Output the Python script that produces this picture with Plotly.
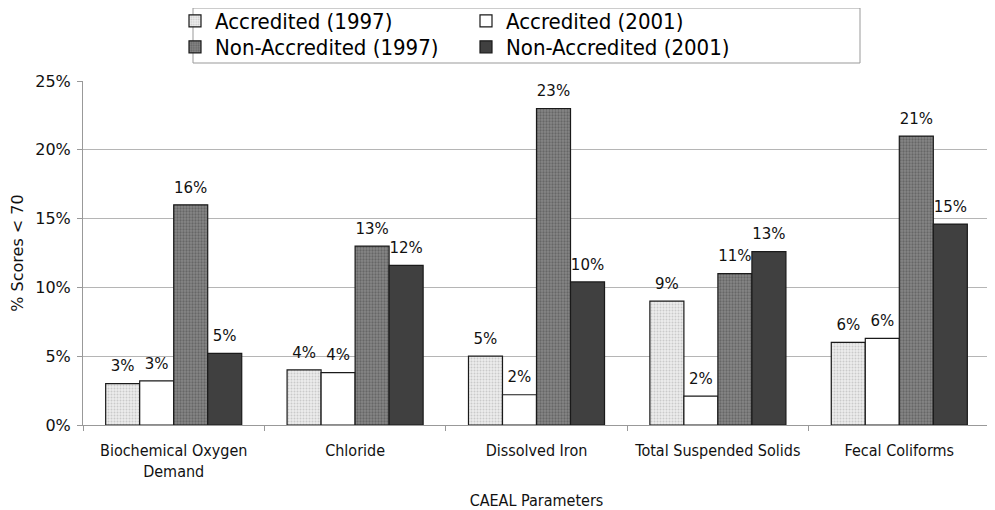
import plotly.graph_objects as go

categories = ["Biochemical Oxygen<br>Demand", "Chloride", "Dissolved Iron",
              "Total Suspended Solids", "Fecal Coliforms"]
series_names = ["Accredited (1997)", "Accredited (2001)",
                "Non-Accredited (1997)", "Non-Accredited (2001)"]
acc_1997 = [0.030, 0.040, 0.050, 0.090, 0.060]
acc_2001 = [0.032, 0.038, 0.022, 0.021, 0.063]
nonacc_1997 = [0.160, 0.130, 0.230, 0.110, 0.210]
nonacc_2001 = [0.052, 0.116, 0.104, 0.126, 0.146]
y_ticks = [0, 0.05, 0.10, 0.15, 0.20, 0.25]

values = [acc_1997, acc_2001, nonacc_1997, nonacc_2001]
styles = [
    dict(color="#dedede", pattern=dict(shape=".", fgcolor="#a8a8a8", bgcolor="#ececec", size=3, solidity=0.35)),
    dict(color="#ffffff"),
    dict(color="#747474", pattern=dict(shape=".", fgcolor="#454545", bgcolor="#878787", size=3, solidity=0.45)),
    dict(color="#404040"),
]
legend_ids = ["legend", "legend", "legend2", "legend2"]

# the page body has an 8px margin, so the figure is 8px smaller than the window
W, H = 987, 502
ML, MT, PW, PH = 75, 73, 907, 344

fig = go.Figure()
for name, vals, st, lg in zip(series_names, values, styles, legend_ids):
    marker = dict(line=dict(color="#1a1a1a", width=1.2))
    marker.update(st)
    fig.add_trace(go.Bar(
        x=categories, y=vals, name=name, marker=marker, legend=lg,
    ))
for name, vals in zip(series_names, values):
    fig.add_trace(go.Scatter(
        x=categories, y=vals, mode="markers+text", showlegend=False,
        marker=dict(size=12, opacity=0), hoverinfo="skip",
        texttemplate="%{y:.0%}", textposition="top center",
        textfont=dict(family="DejaVu Sans", size=15, color="#111"),
        cliponaxis=False,
    ))

condensed = "DejaVu Sans Condensed"
legend_common = dict(
    orientation="h", xanchor="left", yanchor="middle",
    xref="container", yref="container",
    font=dict(family=condensed, size=22, color="#000"),
    bgcolor="rgba(0,0,0,0)", borderwidth=0,
    entrywidthmode="pixels", entrywidth=246, itemwidth=30,
    traceorder="normal",
)

def sy(v):  # screen pixel row -> paper y
    return (MT + PH - (v - 8)) / PH

def sx(v):  # screen pixel column -> paper x
    return (v - 8 - ML) / PW

fig.update_layout(
    width=W, height=H,
    margin=dict(l=ML, r=W - ML - PW, t=MT, b=H - MT - PH, autoexpand=False),
    paper_bgcolor="white", plot_bgcolor="white",
    barmode="group", bargap=0.25, bargroupgap=0,
    scattermode="group", scattergap=0.25,
    showlegend=True,
    legend=dict(x=(167) / W, y=1 - 13 / H, **legend_common),
    legend2=dict(x=(167) / W, y=1 - 39 / H, **legend_common),
    shapes=[dict(type="rect", xref="paper", yref="paper",
                 x0=sx(193), x1=sx(860), y0=sy(63), y1=sy(8),
                 line=dict(color="#999", width=1), fillcolor="rgba(0,0,0,0)", layer="below")],
    xaxis=dict(
        showline=True, linecolor="#999", linewidth=1,
        ticks="outside", tickson="boundaries", ticklen=5, tickcolor="#999",
        tickangle=0,
        tickfont=dict(family=condensed, size=16, color="#111"),
        ticklabelstandoff=11,
        title=dict(text="CAEAL Parameters", standoff=15,
                   font=dict(family=condensed, size=16, color="#111")),
    ),
    yaxis=dict(
        range=[0, 0.25], tickvals=y_ticks, tickformat=".0%",
        showline=True, linecolor="#999", linewidth=1,
        showgrid=True, gridcolor="#b5b5b5", gridwidth=1,
        ticks="outside", ticklen=5, tickcolor="#999",
        ticklabelstandoff=3,
        zeroline=False,
        tickfont=dict(family="DejaVu Sans", size=16, color="#111"),
        title=dict(text="% Scores < 70", standoff=12,
                   font=dict(family="DejaVu Sans", size=16, color="#111")),
    ),
)

fig.write_html("out.html")
